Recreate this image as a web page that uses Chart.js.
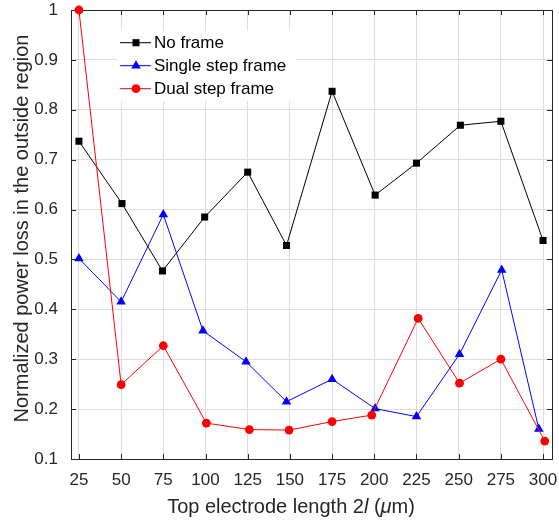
<!DOCTYPE html>
<html>
<head>
<meta charset="utf-8">
<script src="https://cdn.jsdelivr.net/npm/chart.js@4.4.1/dist/chart.umd.min.js"></script>
<style>
  html, body { margin: 0; padding: 0; background: #fff; }
  canvas { display: block; }
</style>
</head>
<body>
<canvas id="lossChart" width="559" height="521"></canvas>
<script>
// axis ticks
var xTicks = [25, 50, 75, 100, 125, 150, 175, 200, 225, 250, 275, 300];
var yTicks = [0.1, 0.2, 0.3, 0.4, 0.5, 0.6, 0.7, 0.8, 0.9, 1];

var xNoFrame = [25, 50.5, 74.5, 99.5, 125, 148, 175, 200.5, 225, 251, 275, 300];
var noFrame  = [0.737, 0.612, 0.477, 0.585, 0.675, 0.528, 0.837, 0.629, 0.693, 0.769, 0.777, 0.538];

var xSingle = [25, 50, 75, 98.5, 124, 148, 175, 200.5, 225, 250.5, 275.5, 297.5];
var single  = [0.502, 0.415, 0.590, 0.357, 0.295, 0.215, 0.260, 0.201, 0.185, 0.310, 0.479, 0.160];

var xDual = [25, 50, 75, 100.5, 126, 149.5, 175, 198.5, 226, 250.5, 275, 301];
var dual  = [1.0, 0.249, 0.327, 0.172, 0.159, 0.158, 0.175, 0.188, 0.382, 0.252, 0.300, 0.136];

var FONT = "'Liberation Sans', Arial, sans-serif";
var AXIS_COLOR = '#262626';

function pts(xs, ys) {
  return xs.map(function (x, i) { return { x: x, y: ys[i] }; });
}

var seriesStyle = [
  { label: 'No frame', color: '#000000', style: 'rect', radius: 5 },
  { label: 'Single step frame', color: '#0000ff', style: 'triangle', radius: 5.5 },
  { label: 'Dual step frame', color: '#ff0000', style: 'circle', radius: 4.4 }
];

// box, inside tick marks, axis titles and legend (matlab look)
var figurePlugin = {
  id: 'figurePlugin',
  beforeDatasetsDraw: function (chart) {
    var ctx = chart.ctx, a = chart.chartArea;
    var xs = chart.scales.x, ys = chart.scales.y;
    ctx.save();
    ctx.strokeStyle = AXIS_COLOR;
    ctx.lineWidth = 1;
    ctx.beginPath();
    xTicks.forEach(function (v) {
      var px = Math.round(xs.getPixelForValue(v)) + 0.5;
      ctx.moveTo(px, a.bottom); ctx.lineTo(px, a.bottom - 5);
      ctx.moveTo(px, a.top); ctx.lineTo(px, a.top + 5);
    });
    yTicks.forEach(function (v) {
      var py = Math.round(ys.getPixelForValue(v)) + 0.5;
      ctx.moveTo(a.left, py); ctx.lineTo(a.left + 5, py);
      ctx.moveTo(a.right, py); ctx.lineTo(a.right - 5, py);
    });
    ctx.stroke();
    ctx.strokeRect(Math.round(a.left) + 0.5, Math.round(a.top) + 0.5,
      Math.round(a.right - a.left), Math.round(a.bottom - a.top));
    ctx.restore();
  },
  afterDraw: function (chart) {
    var ctx = chart.ctx;
    ctx.save();

    // x title with italic l and mu
    var parts = [
      ['Top electrode length 2', 'normal'],
      ['l', 'italic'],
      [' (', 'normal'],
      ['\u03bc', 'italic'],
      ['m)', 'normal']
    ];
    var total = 0;
    parts.forEach(function (p) {
      ctx.font = p[1] + ' 20px ' + FONT;
      p.push(ctx.measureText(p[0]).width);
      total += p[2];
    });
    var x = 291 - total / 2;
    ctx.fillStyle = AXIS_COLOR;
    ctx.textBaseline = 'alphabetic';
    ctx.textAlign = 'left';
    parts.forEach(function (p) {
      ctx.font = p[1] + ' 20px ' + FONT;
      ctx.fillText(p[0], x, 513);
      x += p[2];
    });

    // y title
    ctx.save();
    ctx.translate(28, 228.5);
    ctx.rotate(-Math.PI / 2);
    ctx.textAlign = 'center';
    ctx.font = '20px ' + FONT;
    ctx.fillText('Normalized power loss in the outside region', 0, 0);
    ctx.restore();

    // legend
    ctx.fillStyle = '#ffffff';
    ctx.fillRect(117, 31, 180, 70);
    var rows = [42.7, 65.7, 88.7];
    seriesStyle.forEach(function (s, i) {
      var y = rows[i];
      ctx.strokeStyle = s.color;
      ctx.lineWidth = 1;
      ctx.beginPath();
      ctx.moveTo(120, y); ctx.lineTo(151, y);
      ctx.stroke();
      ctx.fillStyle = s.color;
      Chart.helpers.drawPoint(ctx, { pointStyle: s.style, radius: s.radius, borderWidth: 0 }, 136, y);
      ctx.fillStyle = '#000000';
      ctx.font = '17px ' + FONT;
      ctx.textAlign = 'left';
      ctx.textBaseline = 'middle';
      ctx.fillText(s.label, 154, y + 1);
    });
    ctx.restore();
  }
};

function makeSet(i, xs, ys, order) {
  var s = seriesStyle[i];
  return {
    label: s.label,
    data: pts(xs, ys),
    borderColor: s.color,
    backgroundColor: s.color,
    borderWidth: 1,
    pointStyle: s.style,
    pointRadius: s.radius,
    pointBorderWidth: 0,
    pointBackgroundColor: s.color,
    tension: 0,
    clip: false,
    order: order
  };
}

var ctx = document.getElementById('lossChart').getContext('2d');
new Chart(ctx, {
  type: 'line',
  data: {
    datasets: [
      makeSet(0, xNoFrame, noFrame, 3),
      makeSet(1, xSingle, single, 2),
      makeSet(2, xDual, dual, 1)
    ]
  },
  options: {
    responsive: false,
    animation: false,
    layout: { padding: { top: 10, right: 7, left: 0, bottom: 0 } },
    plugins: { legend: { display: false }, tooltip: { enabled: false } },
    scales: {
      x: {
        type: 'linear',
        min: 20.3,
        max: 305.3,
        afterBuildTicks: function (s) { s.ticks = xTicks.map(function (v) { return { value: v }; }); },
        afterFit: function (s) {
          s.height = 62;
          s.paddingLeft = 0; s.paddingRight = 0;
        },
        grid: { color: '#dedede', drawTicks: false },
        border: { display: false },
        ticks: {
          color: AXIS_COLOR,
          font: { family: FONT, size: 17 },
          padding: 11,
          maxRotation: 0,
          autoSkip: false
        }
      },
      y: {
        type: 'linear',
        min: 0.1,
        max: 1,
        afterBuildTicks: function (s) { s.ticks = yTicks.map(function (v) { return { value: v }; }); },
        afterFit: function (s) {
          s.width = 71;
          s.paddingTop = 0; s.paddingBottom = 0;
        },
        grid: { color: '#dedede', drawTicks: false },
        border: { display: false },
        ticks: {
          color: AXIS_COLOR,
          font: { family: FONT, size: 17 },
          padding: 13,
          autoSkip: false,
          callback: function (v) { return v === 1 ? '1' : v.toFixed(1); }
        }
      }
    }
  },
  plugins: [figurePlugin]
});
</script>
</body>
</html>
